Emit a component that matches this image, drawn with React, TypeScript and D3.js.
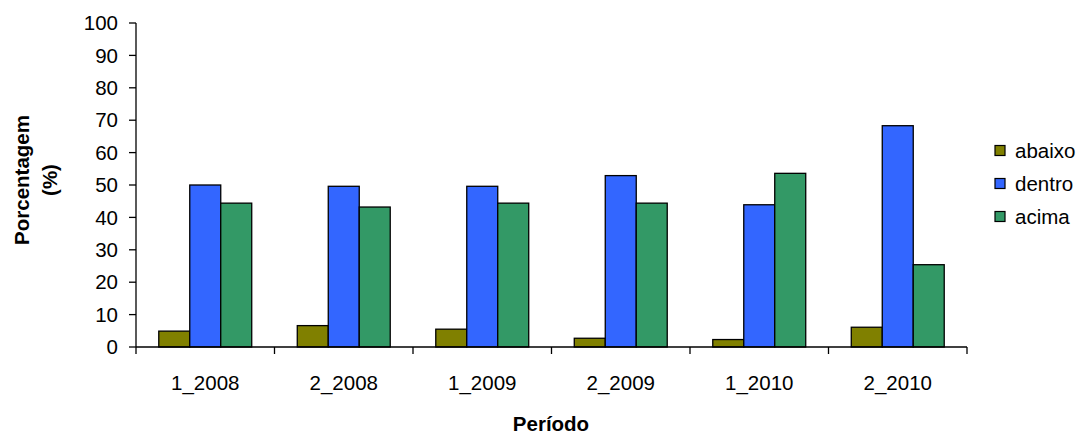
import React from "react";
import * as d3 from "d3";

const categories = ["1_2008", "2_2008", "1_2009", "2_2009", "1_2010", "2_2010"];
const seriesNames = ["abaixo", "dentro", "acima"];
const abaixo = [4.9, 6.6, 5.5, 2.7, 2.3, 6.1];
const dentro = [50.0, 49.6, 49.6, 52.9, 43.9, 68.3];
const acima = [44.4, 43.2, 44.4, 44.4, 53.6, 25.4];
const yTicks = [0, 10, 20, 30, 40, 50, 60, 70, 80, 90, 100];
const colors = ["#808000", "#3366FF", "#339966"];

const W = 1087, H = 437;
const left = 136, right = 967, top = 23, bottom = 347;
const font = "Liberation Sans, Arial, sans-serif";
const fs = 20.5;

export default function App() {
  const values = [abaixo, dentro, acima];
  const x = d3.scaleBand<string>().domain(categories).range([left, right]).paddingInner(0).paddingOuter(0);
  const inner = d3.scaleBand<string>().domain(seriesNames).range([0, x.bandwidth()]).paddingInner(0).paddingOuter(0.735);
  const y = d3.scaleLinear().domain([0, 100]).range([bottom, top]);

  return (
    <svg width={W} height={H} style={{ position: "absolute", left: 0, top: 0, display: "block" }} fontFamily={font}>
      <rect width={W} height={H} fill="#fff" />
      {categories.map((c, i) => (
        <g key={c}>
          {seriesNames.map((s, j) => (
            <rect key={s} x={x(c)! + inner(s)!} y={y(values[j][i])} width={inner.bandwidth()} height={bottom - y(values[j][i])}
              fill={colors[j]} stroke="#000" strokeWidth={1.3} />
          ))}
        </g>
      ))}
      {/* y axis */}
      <line x1={left} x2={left} y1={top} y2={bottom} stroke="#000" strokeWidth={1.3} />
      {yTicks.map((t) => (
        <g key={t}>
          <line x1={left - 7} x2={left} y1={y(t)} y2={y(t)} stroke="#000" strokeWidth={1.3} />
          <text x={118} y={y(t)} dy="0.35em" textAnchor="end" fontSize={fs}>{t}</text>
        </g>
      ))}
      {/* x axis */}
      <line x1={left} x2={right} y1={bottom} y2={bottom} stroke="#000" strokeWidth={1.3} />
      {d3.range(categories.length + 1).map((i) => {
        const xx = left + i * x.step();
        return <line key={i} x1={xx} x2={xx} y1={bottom} y2={bottom + 7} stroke="#000" strokeWidth={1.3} />;
      })}
      {categories.map((c) => (
        <text key={c} x={x(c)! + x.bandwidth() / 2} y={383} dy="0.35em" textAnchor="middle" fontSize={fs}>{c}</text>
      ))}
      <text x={551} y={424} dy="0.35em" textAnchor="middle" fontSize={fs} fontWeight="bold">Período</text>
      <text transform={`translate(22,180) rotate(-90)`} dy="0.35em" textAnchor="middle" fontSize={fs} fontWeight="bold">Porcentagem</text>
      <text transform={`translate(50,180) rotate(-90)`} dy="0.35em" textAnchor="middle" fontSize={fs} fontWeight="bold">(%)</text>
      {/* legend */}
      {seriesNames.map((s, j) => {
        const cy = 150.5 + j * 33;
        return (
          <g key={s}>
            <rect x={995} y={cy - 5} width={10} height={10} fill={colors[j]} stroke="#000" strokeWidth={1.2} />
            <text x={1015} y={cy} dy="0.35em" fontSize={fs}>{s}</text>
          </g>
        );
      })}
    </svg>
  );
}
